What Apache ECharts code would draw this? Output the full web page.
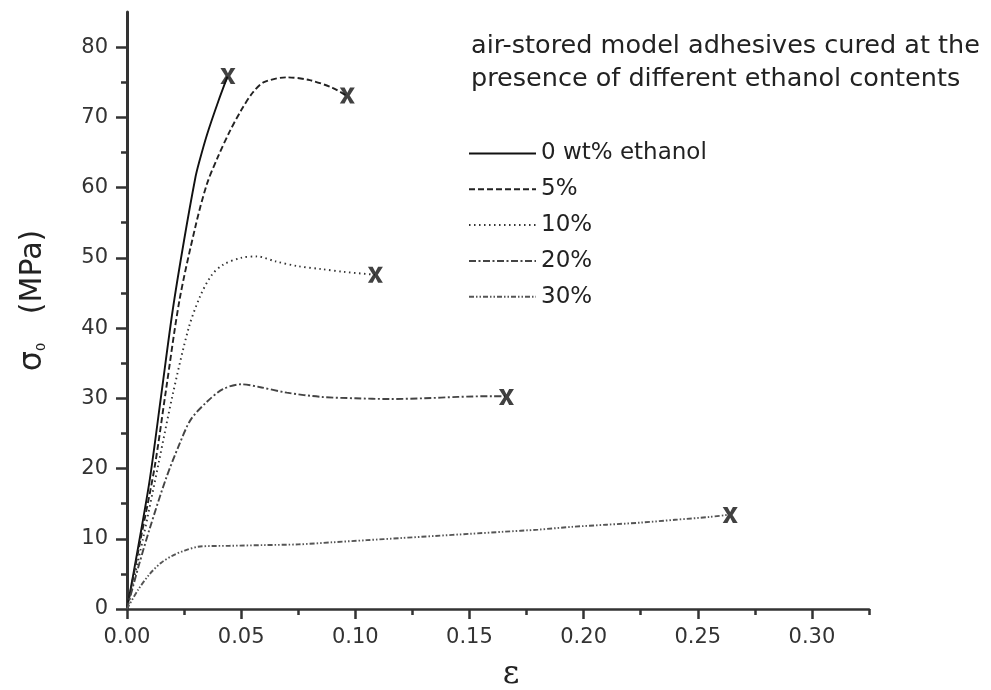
<!DOCTYPE html>
<html>
<head>
<meta charset="utf-8">
<script src="https://cdn.jsdelivr.net/npm/echarts@6/dist/echarts.min.js"></script>
<style>
  html, body { margin: 0; padding: 0; background: #fff; }
  #chart { width: 991px; height: 690px; }
</style>
</head>
<body>
<div id="chart"></div>
<script>
// strain (ε) and stress (σ0, MPa)
const strain0 = [0, 0.005, 0.010, 0.015, 0.020, 0.025, 0.030, 0.0315, 0.035, 0.040, 0.044]
const stress0 = [0, 9, 18.5, 30.5, 42.5, 52.5, 61.5, 63.5, 67.5, 72.3, 75.8]

const strain5 = [0, 0.006, 0.012, 0.017, 0.023, 0.030, 0.035, 0.040, 0.045, 0.050, 0.055, 0.060, 0.070, 0.080, 0.090, 0.096]
const stress5 = [0, 10, 20, 31, 44, 54.5, 60.5, 64.5, 68, 71, 73.5, 75, 75.7, 75.3, 74.2, 73.1]

const strain10 = [0, 0.007, 0.014, 0.020, 0.027, 0.032, 0.037, 0.042, 0.050, 0.057, 0.065, 0.075, 0.085, 0.095, 0.1085]
const stress10 = [0, 10, 21, 30.5, 40, 44.5, 47.5, 49, 50, 50.2, 49.5, 48.8, 48.4, 48, 47.6]

const strain20 = [0, 0.005, 0.010, 0.017, 0.023, 0.028, 0.035, 0.042, 0.050, 0.058, 0.070, 0.085, 0.100, 0.115, 0.130, 0.145, 0.160, 0.1655]
const stress20 = [0, 6, 11.5, 18.5, 23.5, 27, 29.5, 31.3, 32, 31.6, 30.8, 30.2, 30, 29.9, 30, 30.2, 30.3, 30.3]

const strain30 = [0, 0.005, 0.010, 0.015, 0.020, 0.025, 0.032, 0.045, 0.060, 0.075, 0.090, 0.105, 0.120, 0.135, 0.150, 0.165, 0.180, 0.195, 0.210, 0.225, 0.240, 0.255, 0.263]
const stress30 = [0, 2.8, 5, 6.6, 7.6, 8.3, 8.9, 9, 9.1, 9.2, 9.5, 9.8, 10.1, 10.4, 10.7, 11, 11.3, 11.7, 12, 12.3, 12.7, 13.1, 13.4]

// failure points (x marks)
const breakStrain = [0.0442, 0.0965, 0.1088, 0.1662, 0.2642]
const breakStress = [75.9, 73.1, 47.6, 30.2, 13.4]

const seriesNames = ['0 wt% ethanol', '5%', '10%', '20%', '30%']
const xTicks = [0, 0.05, 0.10, 0.15, 0.20, 0.25, 0.30]
const xMinorTicks = [0.025, 0.075, 0.125, 0.175, 0.225, 0.275, 0.325]
const yTicks = [0, 10, 20, 30, 40, 50, 60, 70, 80]
const yMinorTicks = [5, 15, 25, 35, 45, 55, 65, 75]

const zip = (xs, ys) => xs.map((x, i) => [x, ys[i]])

const curves = [
  { x: strain0, y: stress0, color: '#111', dash: 'solid' },
  { x: strain5, y: stress5, color: '#222', dash: [6, 3] },
  { x: strain10, y: stress10, color: '#333', dash: [1.5, 3.5] },
  { x: strain20, y: stress20, color: '#444', dash: [7, 2.5, 2, 2.5] },
  { x: strain30, y: stress30, color: '#555', dash: [5, 2, 1.5, 2, 1.5, 2] }
]

const chart = echarts.init(document.getElementById('chart'))
const font = 'DejaVu Sans, sans-serif'

const option = {
  backgroundColor: '#fff',
  animation: false,
  title: {
    text: 'air-stored model adhesives cured at the\npresence of different ethanol contents',
    left: 466,
    top: 25,
    textStyle: { fontFamily: font, fontSize: 25.5, fontWeight: 'normal', color: '#222', lineHeight: 33 }
  },
  legend: {
    data: seriesNames,
    orient: 'vertical',
    left: 463,
    top: 137,
    itemWidth: 67,
    itemHeight: 14,
    itemGap: 12.8,
    itemStyle: { opacity: 0 },
    textStyle: { fontFamily: font, fontSize: 23, color: '#222', lineHeight: 23 }
  },
  grid: { left: 127, right: 122, top: 12, bottom: 81, outerBoundsMode: 'none' },
  xAxis: [
    {
      type: 'value',
      min: 0,
      max: 0.325,
      splitLine: { show: false },
      axisLine: { lineStyle: { color: '#333', width: 2.5 } },
      name: 'ε',
      nameLocation: 'middle',
      nameGap: 50,
      nameTextStyle: { fontFamily: 'DejaVu Serif, serif', fontSize: 32, color: '#222', padding: [0, 0, 0, 26] },
      axisTick: { length: 10, customValues: xTicks, lineStyle: { color: '#333', width: 2.5 } },
      axisLabel: {
        customValues: xTicks,
        margin: 18,
        fontFamily: font, fontSize: 21, color: '#333',
        formatter: v => v.toFixed(2)
      }
    },
    {
      type: 'value',
      min: 0,
      max: 0.325,
      position: 'bottom',
      splitLine: { show: false },
      axisLine: { show: false },
      axisTick: { length: 6, customValues: xMinorTicks, lineStyle: { color: '#333', width: 2.5 } },
      axisLabel: { show: false }
    }
  ],
  yAxis: [
    {
      type: 'value',
      min: 0,
      max: 85,
      splitLine: { show: false },
      axisLine: { lineStyle: { color: '#333', width: 3 } },
      name: '{s|σ}{sub|0}   (MPa)',
      nameLocation: 'middle',
      nameRotate: 90,
      nameGap: 78,
      nameTextStyle: {
        fontFamily: font, fontSize: 30, color: '#222',
        padding: [0, 0, 0, 20],
        rich: {
          s: { fontFamily: font, fontSize: 32, color: '#222' },
          sub: { fontFamily: font, fontSize: 13, color: '#222', padding: [17, 0, 0, 0] }
        }
      },
      axisTick: { length: 11, customValues: yTicks, lineStyle: { color: '#333', width: 2.5 } },
      axisLabel: { customValues: yTicks, margin: 19, fontFamily: font, fontSize: 21, color: '#333' }
    },
    {
      type: 'value',
      min: 0,
      max: 85,
      position: 'left',
      splitLine: { show: false },
      axisLine: { show: false },
      axisTick: { length: 6, customValues: yMinorTicks, lineStyle: { color: '#333', width: 2.5 } },
      axisLabel: { show: false }
    }
  ],
  series: curves.map((c, i) => ({
    name: seriesNames[i],
    type: 'line',
    data: zip(c.x, c.y),
    smooth: 0.3,
    symbol: 'none',
    color: c.color,
    lineStyle: { color: c.color, width: 1.9, type: c.dash }
  })).concat([{
    name: 'break',
    type: 'scatter',
    data: zip(breakStrain, breakStress),
    symbol: 'path://M0,0 L3.2,0 L5,3.6 L6.8,0 L10,0 L6.6,5.5 L10,11 L6.8,11 L5,7.4 L3.2,11 L0,11 L3.4,5.5 Z',
    symbolSize: [15, 16],
    itemStyle: { color: '#111' },
    z: 5
  }])
}

chart.setOption(option)
</script>
</body>
</html>
